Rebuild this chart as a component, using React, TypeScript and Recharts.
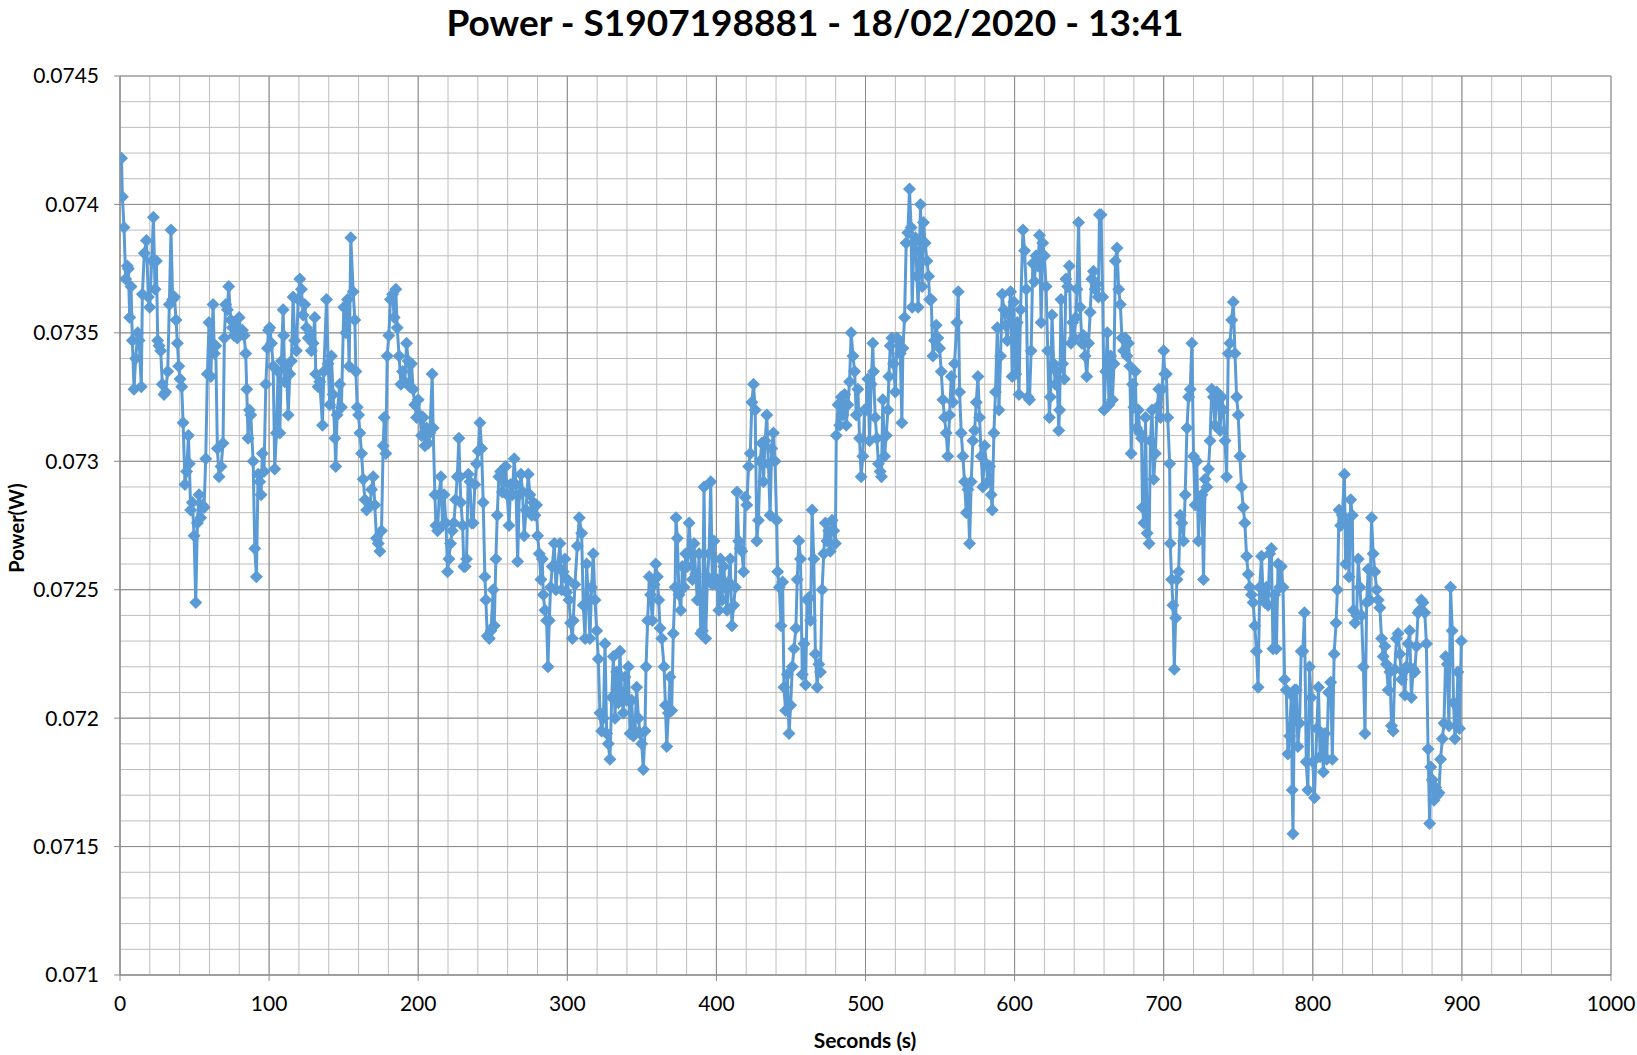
import React from 'react';
import { LineChart, Line, XAxis, YAxis, CartesianGrid } from 'recharts';

// [seconds, power in W] in 100 s blocks
const sec000: [number, number][] = [
  [1, 0.07418], [1.6, 0.07403], [2.7, 0.07391], [3.8, 0.07371], [4.9, 0.07376], [5.6, 0.07375], [6.5, 0.07356], [7.4, 0.07368],
  [8.3, 0.07347], [9.4, 0.07328], [10.5, 0.0734], [11.9, 0.0735], [12.8, 0.07347], [14.3, 0.07329], [15, 0.07365], [16.3, 0.07381],
  [17.7, 0.07386], [19, 0.07364], [19.9, 0.0736], [21.3, 0.07378], [22.4, 0.07395], [23.5, 0.07367], [24.4, 0.07378], [25.3, 0.07347],
  [26.2, 0.07345], [27.3, 0.07343], [28.4, 0.0733], [29.5, 0.07326], [30.6, 0.07327], [32, 0.07335], [33.1, 0.07361], [34.2, 0.0739],
  [35.3, 0.07363], [36.5, 0.07364], [37.6, 0.07355], [38.5, 0.07346], [39.4, 0.07337], [40.3, 0.07332], [41.4, 0.07329], [42.3, 0.07315],
  [43.6, 0.07291], [44.7, 0.07296], [45.9, 0.0731], [46.5, 0.07299], [47.4, 0.07281], [48.5, 0.07284], [49.7, 0.07271], [50.8, 0.07245],
  [51.9, 0.07276], [53, 0.07287], [54.1, 0.07278], [55.3, 0.07283], [56.4, 0.07282], [57.5, 0.07301], [58.6, 0.07334], [59.7, 0.07354],
  [60.9, 0.07333], [62.4, 0.07361], [63.3, 0.07342], [64.2, 0.07345], [65.3, 0.07305], [66.4, 0.07294], [67.8, 0.07298], [69.1, 0.07307],
  [70, 0.07348], [70.9, 0.07361], [72, 0.07359], [72.9, 0.07368], [74.3, 0.07355], [75.4, 0.07352], [76.5, 0.07349], [77.6, 0.07353],
  [78.7, 0.07348], [79.9, 0.07356], [81, 0.0735], [82.1, 0.07351], [83.2, 0.07349], [84.3, 0.07342], [85, 0.07328], [85.9, 0.07309],
  [86.8, 0.0732], [87.7, 0.07318], [89.3, 0.073], [90.4, 0.07266], [91.5, 0.07255], [92.6, 0.07295], [93.7, 0.07292], [94.6, 0.07287],
  [95.5, 0.07303], [96.6, 0.07296], [97.8, 0.0733], [98.9, 0.07344], [99.6, 0.07351],
];

const sec100: [number, number][] = [
  [100.4, 0.07352], [101.6, 0.07346], [102.7, 0.07337], [103.8, 0.07297], [104.9, 0.07311], [106, 0.07335], [107.2, 0.07311], [108.3, 0.07339],
  [109.4, 0.07359], [109.8, 0.07349], [110.5, 0.07331], [111.6, 0.07337], [112.8, 0.07318], [113.9, 0.07334], [115, 0.07339], [116.1, 0.07364],
  [117.2, 0.07347], [118.3, 0.07343], [119.5, 0.07363], [120.6, 0.07371], [121.7, 0.07367], [122.8, 0.07357], [123.9, 0.07361], [125.1, 0.07352],
  [126.2, 0.07348], [127.3, 0.0735], [128.4, 0.07343], [129.5, 0.07346], [130.6, 0.07356], [131.3, 0.07334], [132.9, 0.07329], [134, 0.07331],
  [135.8, 0.07314], [136.7, 0.07335], [138.5, 0.07363], [139.6, 0.07338], [140.7, 0.07322], [141.8, 0.07341], [142.9, 0.07326], [144.1, 0.07309],
  [144.7, 0.07298], [145.6, 0.07318], [147.4, 0.0733], [148.5, 0.07321], [150.1, 0.0736], [151.5, 0.0735], [152.6, 0.07363], [153.7, 0.07337],
  [154.8, 0.07387], [156.4, 0.07366], [157.5, 0.07355], [158.2, 0.07335], [159.1, 0.07321], [160, 0.07318], [160.9, 0.07311], [162, 0.07303],
  [163.1, 0.07293], [164.3, 0.07285], [165.4, 0.07281], [167.6, 0.07283], [168.7, 0.07289], [169.8, 0.07294], [170.9, 0.07283], [172, 0.0727],
  [173.2, 0.07268], [174.3, 0.07265], [175.4, 0.07273], [176.5, 0.07306], [177.2, 0.07317], [178.3, 0.07303], [179.2, 0.07341], [180.3, 0.07349],
  [181.4, 0.07363], [182.8, 0.07365], [183.9, 0.07356], [185, 0.07367], [185.9, 0.07352], [187.2, 0.07341], [188.4, 0.0733], [189.5, 0.07335],
  [191, 0.07331], [192.2, 0.07346], [193.3, 0.07339], [194.4, 0.07329], [195.5, 0.07338], [196.6, 0.07328], [197.7, 0.07322], [198.9, 0.07317],
];

const sec200: [number, number][] = [
  [200, 0.07324], [201.1, 0.07318], [202.2, 0.0731], [203.4, 0.07317], [204.5, 0.07306], [205.6, 0.07313], [206.7, 0.07307], [207.8, 0.07311],
  [209.4, 0.07334], [210, 0.07313], [211.2, 0.07287], [211.9, 0.07275], [213, 0.07273], [214.1, 0.07287], [215.2, 0.07294], [216.3, 0.07275],
  [217.4, 0.07287], [218.6, 0.07276], [219.7, 0.07257], [220.6, 0.07262], [221.7, 0.07268], [222.8, 0.07273], [223.9, 0.07276], [225.1, 0.07285],
  [226.2, 0.07294], [227.3, 0.07309], [228, 0.07294], [228.6, 0.07284], [229.8, 0.07275], [230.6, 0.07259], [231.5, 0.07259], [232.4, 0.07262],
  [233.6, 0.07295], [234.7, 0.07292], [235.8, 0.07276], [236.9, 0.07276], [238, 0.07291], [239.1, 0.07299], [240.3, 0.07304], [241.4, 0.07315],
  [242.5, 0.07305], [243.6, 0.07284], [244.7, 0.07255], [245.4, 0.07246], [246.3, 0.07232], [247.7, 0.07231], [248.8, 0.07234], [250.3, 0.0725],
  [251, 0.07236], [252.1, 0.07262], [253, 0.07279], [254.1, 0.07294], [255.3, 0.07296], [256.4, 0.07288], [257.5, 0.07292], [258.6, 0.07298],
  [259.7, 0.07287], [260.9, 0.07275], [262, 0.07291], [263.1, 0.07287], [264.4, 0.07301], [265.5, 0.07291], [266.7, 0.07261], [267.8, 0.07287],
  [268.9, 0.07295], [270, 0.07288], [271.1, 0.07271], [272.3, 0.07281], [273.8, 0.07295], [274.9, 0.07287], [276.1, 0.07279], [277.2, 0.07284],
  [278.3, 0.07279], [279.4, 0.07283], [280.1, 0.07271], [281.2, 0.07264], [282.3, 0.07254], [283.2, 0.07262], [283.9, 0.07248], [285, 0.07242],
  [286.1, 0.07238], [287, 0.0722], [287.9, 0.07238], [288.8, 0.07251], [289.9, 0.07259], [291.3, 0.07268], [292.4, 0.0725], [293.5, 0.07259],
  [295.1, 0.07268], [296.2, 0.0725], [297.3, 0.07257], [298.4, 0.07262], [299.6, 0.07249],
];

const sec300: [number, number][] = [
  [300, 0.07254], [301.1, 0.07246], [302.2, 0.07237], [303.4, 0.07231], [304, 0.07238], [305.1, 0.07252], [306.7, 0.07267], [308, 0.07278],
  [309.6, 0.07272], [310.7, 0.07244], [311.9, 0.07231], [313, 0.0726], [314.1, 0.07246], [315.2, 0.07231], [316.3, 0.07251], [317.4, 0.07264],
  [318.6, 0.07246], [319.7, 0.07234], [320.8, 0.07223], [321.9, 0.07202], [323, 0.07195], [324.2, 0.072], [325.3, 0.07229], [326.4, 0.07194],
  [327.5, 0.0719], [328.6, 0.07184], [329.8, 0.07208], [330.9, 0.07224], [332, 0.072], [333.1, 0.07218], [334.2, 0.07206], [335.3, 0.07226],
  [336.5, 0.07209], [337.6, 0.07202], [338.7, 0.07216], [339.8, 0.07207], [340.9, 0.0722], [342.1, 0.07194], [343.2, 0.07207], [344.3, 0.07193],
  [345.4, 0.07195], [346.5, 0.07212], [347.7, 0.072], [348.8, 0.07194], [349.9, 0.0719], [351, 0.0718], [352.1, 0.07195], [352.8, 0.0722],
  [353.9, 0.07238], [355, 0.07255], [355.9, 0.07248], [357, 0.07238], [358.2, 0.07252], [359.3, 0.0726], [360.4, 0.07255], [361.3, 0.07246],
  [362.2, 0.07235], [363.3, 0.07231], [364.9, 0.0722], [365.8, 0.07205], [366.7, 0.07189], [367.8, 0.07202], [368.9, 0.07216], [370, 0.07203],
  [371.1, 0.07233], [372.3, 0.07251], [372.9, 0.07278], [373.8, 0.0727], [374.9, 0.07248], [376.1, 0.07242], [377.2, 0.07259], [378.3, 0.07251],
  [379.4, 0.07264], [380.5, 0.07259], [381.7, 0.07276], [382.8, 0.07264], [383.9, 0.07254], [385, 0.07268], [386.1, 0.07256], [387.2, 0.07246],
  [388.4, 0.07264], [389.5, 0.07233], [390.6, 0.07234], [391.7, 0.0729], [392.8, 0.07231], [394, 0.07255], [395.1, 0.07264], [396.2, 0.07292],
  [397.3, 0.07252], [398.4, 0.07269], [399.6, 0.07252],
];

const sec400: [number, number][] = [
  [400.4, 0.07254], [401.6, 0.07242], [402.7, 0.07262], [403.8, 0.07246], [404.9, 0.07259], [406, 0.07251], [407.1, 0.07242], [408.2, 0.07253],
  [409.3, 0.07262], [410.4, 0.07236], [411.6, 0.07244], [412.7, 0.07251], [413.8, 0.07288], [414.9, 0.07269], [416, 0.07266], [417.1, 0.07265],
  [418.2, 0.07257], [419.3, 0.07286], [420.4, 0.07283], [421.6, 0.07298], [422.7, 0.07303], [423.8, 0.07323], [424.9, 0.0733], [426, 0.0732],
  [427.1, 0.07269], [428.2, 0.07277], [429.3, 0.073], [430.4, 0.07307], [431.6, 0.07292], [432.7, 0.07308], [433.8, 0.07318], [434.9, 0.07299],
  [436, 0.07279], [437.1, 0.07305], [438.2, 0.07311], [439.3, 0.073], [440.4, 0.07277], [441.1, 0.07257], [442.2, 0.07251], [443.3, 0.07236],
  [444.4, 0.07253], [445.3, 0.07212], [446.4, 0.07203], [447.6, 0.07217], [448.7, 0.07194], [449.8, 0.07205], [450.9, 0.0722], [452, 0.07227],
  [453.3, 0.07235], [454.2, 0.07254], [455.3, 0.07269], [456.4, 0.07262], [457.6, 0.07217], [458.7, 0.07229], [459.8, 0.07213], [460.9, 0.07246],
  [462, 0.07247], [463.1, 0.07238], [464.2, 0.07281], [465.3, 0.07262], [466.4, 0.07225], [467.6, 0.07212], [468.7, 0.07221], [469.8, 0.07218],
  [470.9, 0.0725], [472, 0.07264], [473.1, 0.07276], [474.2, 0.07269], [475.3, 0.07273], [476.4, 0.07265], [477.6, 0.07277], [478.7, 0.07273],
  [479.8, 0.07268], [480.4, 0.0731], [481.6, 0.07322], [482.7, 0.07314], [483.8, 0.07325], [484.9, 0.07318], [486, 0.07326], [487.1, 0.07314],
  [488.2, 0.07322], [489.3, 0.07331], [490.4, 0.0735], [491.6, 0.07341], [492.7, 0.07335], [493.8, 0.07318], [494.9, 0.07328], [496, 0.07309],
  [497.1, 0.07294], [498.2, 0.07302], [499.3, 0.0732],
];

const sec500: [number, number][] = [
  [500.4, 0.0732], [501.6, 0.07332], [502.7, 0.07308], [503.8, 0.0733], [504.9, 0.07346], [505.4, 0.07335], [506.5, 0.07317], [507.6, 0.07309],
  [508.7, 0.07299], [509.8, 0.07296], [510.7, 0.07294], [511.6, 0.07324], [512.8, 0.07302], [513.9, 0.0731], [515, 0.0732], [515.7, 0.07333],
  [516.6, 0.07345], [517.7, 0.07348], [518.8, 0.07338], [520, 0.07327], [521.1, 0.07348], [522.2, 0.07347], [523.3, 0.07342], [524.4, 0.07315],
  [525.1, 0.07344], [526.2, 0.07356], [527.3, 0.07385], [528.4, 0.07389], [529.5, 0.07406], [530.6, 0.07391], [531.3, 0.0736], [532.4, 0.07385],
  [533.5, 0.07387], [534.5, 0.07372], [535.3, 0.0736], [536.2, 0.07382], [536.9, 0.074], [538, 0.07368], [538.9, 0.07393], [540, 0.07385],
  [541.2, 0.07378], [542.3, 0.07372], [543, 0.07363], [544.1, 0.07363], [545.2, 0.07341], [546.3, 0.07347], [547.4, 0.07353], [548.5, 0.07348],
  [549.7, 0.07344], [550.8, 0.07335], [551.9, 0.07324], [553, 0.07317], [554.1, 0.07311], [555.2, 0.07302], [556.4, 0.07318], [557.5, 0.07333],
  [558.6, 0.07323], [559.7, 0.07338], [561.3, 0.07354], [562.2, 0.07366], [563.1, 0.07327], [564.2, 0.07311], [565.3, 0.07302], [566.4, 0.07292],
  [567.6, 0.0728], [568.7, 0.07289], [569.8, 0.07268], [570.9, 0.07292], [572, 0.07308], [573.2, 0.07312], [574.3, 0.07323], [575.4, 0.07333],
  [576.5, 0.07317], [577.6, 0.07302], [578.7, 0.0729], [579.9, 0.07306], [581, 0.07299], [582.1, 0.07292], [583.2, 0.07298], [584.3, 0.07287],
  [585, 0.07281], [586.1, 0.07311], [587.2, 0.07327], [588.4, 0.07352], [589.5, 0.0732], [590.6, 0.07341], [591.7, 0.07365], [592.8, 0.07359],
  [593.9, 0.07353], [595.1, 0.07347], [596.2, 0.07357], [597.3, 0.07366], [598.4, 0.07333], [599.5, 0.07362],
];

const sec600: [number, number][] = [
  [600, 0.07348], [600.7, 0.07334], [601.8, 0.07354], [602.9, 0.07326], [604, 0.07359], [605.6, 0.0739], [606.7, 0.07382], [607.8, 0.07367],
  [608.9, 0.07325], [610, 0.07324], [611.1, 0.07343], [612.2, 0.07377], [613.3, 0.0737], [614.4, 0.0738], [615.6, 0.07376], [616.7, 0.07388],
  [617.8, 0.07354], [618.9, 0.07385], [620, 0.0738], [621.1, 0.07368], [622.2, 0.07343], [623.3, 0.07317], [624, 0.07325], [625.1, 0.07357],
  [626.2, 0.07338], [627.3, 0.0733], [628.4, 0.07335], [629.6, 0.07312], [630.2, 0.0732], [631.1, 0.07363], [632.2, 0.07338], [633.3, 0.07332],
  [634.4, 0.07371], [635.6, 0.07368], [636.7, 0.07376], [637.8, 0.07346], [638.9, 0.07354], [640, 0.07348], [641.1, 0.07356], [641.8, 0.07367],
  [642.9, 0.07393], [644, 0.0736], [645.1, 0.07346], [646.2, 0.07349], [647.3, 0.07341], [648.4, 0.07333], [649.6, 0.07346], [650.7, 0.07358],
  [651.8, 0.07371], [652.9, 0.07374], [654, 0.07367], [655.1, 0.07369], [656.2, 0.07364], [656.9, 0.07396], [658, 0.07396], [659.1, 0.07364],
  [660, 0.0732], [661.1, 0.07335], [662.2, 0.0735], [663.3, 0.07322], [664.4, 0.07341], [665.6, 0.07324], [666.7, 0.07338], [667.6, 0.07378],
  [668.7, 0.07383], [669.8, 0.07367], [670.9, 0.07361], [672, 0.07348], [673.1, 0.07343], [674.2, 0.07348], [675.3, 0.07341], [676.4, 0.07346],
  [677.3, 0.07337], [678.2, 0.07303], [679.1, 0.0733], [680, 0.07321], [680.9, 0.07335], [681.8, 0.07313], [682.9, 0.0732], [684, 0.07311],
  [685.1, 0.07309], [685.8, 0.07282], [686.7, 0.07276], [687.8, 0.07317], [688.9, 0.07272], [690.2, 0.07268], [691.1, 0.07308], [692.2, 0.0732],
  [693.3, 0.07293], [694.4, 0.07303], [695.6, 0.07321], [696.7, 0.07328], [697.8, 0.07317], [698.9, 0.07328], [700, 0.07343], [700.7, 0.07334],
];

const sec700: [number, number][] = [
  [701.8, 0.07334], [702.7, 0.07317], [704, 0.07299], [704.4, 0.07268], [705.3, 0.07254], [706.2, 0.07244], [707.1, 0.07219], [708, 0.07239],
  [708.9, 0.07254], [710, 0.07257], [711.1, 0.07279], [712.2, 0.07276], [713.3, 0.07269], [714.4, 0.07287], [715.6, 0.07313], [716.7, 0.07325],
  [717.8, 0.07328], [718.9, 0.07346], [720, 0.07302], [721.1, 0.07283], [722.2, 0.073], [723.3, 0.07269], [724.4, 0.07285], [725.6, 0.07287],
  [726.7, 0.07254], [727.8, 0.07293], [728.9, 0.0729], [730, 0.07297], [731.1, 0.07308], [732.2, 0.07328], [733.3, 0.07325], [734.4, 0.07314],
  [735.6, 0.07327], [736.7, 0.07324], [737.8, 0.07312], [738.9, 0.07325], [740, 0.0732], [741.1, 0.07308], [742.2, 0.07294], [743.3, 0.07342],
  [744.4, 0.07346], [745.6, 0.07355], [746.7, 0.07362], [747.8, 0.07342], [748.9, 0.07325], [750, 0.07318], [751.1, 0.07302], [752.2, 0.0729],
  [753.3, 0.07282], [754.4, 0.07276], [755.6, 0.07263], [756.7, 0.07256], [757.8, 0.07251], [758.9, 0.07248], [760, 0.07245], [761.1, 0.07236],
  [762.2, 0.07226], [763.3, 0.07212], [764.4, 0.07251], [765.6, 0.07263], [766.7, 0.07248], [767.8, 0.07245], [768.9, 0.07251], [770, 0.07244],
  [771.1, 0.07264], [772.2, 0.07266], [773.3, 0.07227], [774.4, 0.07248], [775.6, 0.07227], [776.7, 0.0726], [777.8, 0.07251], [778.9, 0.07259],
  [780, 0.07251], [781.1, 0.07215], [782.2, 0.07211], [783.3, 0.07186], [784.4, 0.07193], [785.6, 0.07209], [786.2, 0.07172], [786.7, 0.07155],
  [787.8, 0.07211], [788.9, 0.07211], [790, 0.07189], [791.1, 0.07198], [792.2, 0.07226], [793.3, 0.07226], [794.4, 0.07241], [795.6, 0.07183],
  [796.7, 0.07172], [797.8, 0.0722], [798.9, 0.07208], [800, 0.07183], [801.1, 0.07169],
];

const sec800: [number, number][] = [
  [802.7, 0.07196], [803.8, 0.07212], [804.9, 0.07185], [806, 0.07194], [807.1, 0.07179], [808.2, 0.07194], [809.4, 0.07184], [810.5, 0.0721],
  [812, 0.07214], [813.1, 0.07184], [814.3, 0.07225], [815.6, 0.07237], [816.5, 0.0725], [817.6, 0.07281], [818.7, 0.07275], [819.8, 0.07279],
  [821.2, 0.07295], [822, 0.0726], [823.2, 0.07276], [824.3, 0.07255], [825.4, 0.07285], [826.5, 0.07279], [827.2, 0.07242], [828.3, 0.07237],
  [829.4, 0.0724], [830.5, 0.07262], [831.6, 0.07251], [832.7, 0.0724], [833.9, 0.0722], [835, 0.07194], [836.1, 0.07245], [837.2, 0.07258],
  [838.3, 0.07246], [839.4, 0.07278], [840.5, 0.07264], [841.6, 0.07257], [842.8, 0.0725], [843.9, 0.07246], [845, 0.07243], [846.1, 0.07231],
  [847.2, 0.07224], [848.3, 0.07228], [849.4, 0.07221], [850.6, 0.07211], [851.7, 0.07218], [852.8, 0.07197], [853.9, 0.07195], [855, 0.07219],
  [856.1, 0.07231], [857.2, 0.07233], [858.4, 0.07225], [859.5, 0.07215], [860.6, 0.07218], [861.7, 0.07209], [862.8, 0.0722], [863.9, 0.07229],
  [865, 0.07234], [866.1, 0.07208], [867.3, 0.07219], [868.4, 0.07218], [869.5, 0.07228], [870.6, 0.07241], [871.7, 0.07242], [872.8, 0.07246],
  [873.9, 0.07245], [875.1, 0.07241], [876.2, 0.07229], [877.3, 0.07188], [878.4, 0.07159], [879.1, 0.07181], [880.2, 0.07176], [881.3, 0.07168],
  [882.4, 0.07173], [883.5, 0.0717], [884.6, 0.07171], [885.7, 0.07184], [886.9, 0.07192], [888, 0.07198], [889.1, 0.07224], [890.2, 0.07221],
  [891.3, 0.07197], [892.4, 0.07251], [893.5, 0.07234], [894.4, 0.07206], [895.3, 0.07192], [896.2, 0.07197], [897.3, 0.07218], [898.4, 0.07196],
  [899.6, 0.0723],
];

const samples = [...sec000, ...sec100, ...sec200, ...sec300, ...sec400, ...sec500, ...sec600, ...sec700, ...sec800]
  .map(([s, w]) => ({ s, w }));

const xTicks = [0, 100, 200, 300, 400, 500, 600, 700, 800, 900, 1000];
const yTicks = [0.071, 0.0715, 0.072, 0.0725, 0.073, 0.0735, 0.074, 0.0745];
const xMinor = Array.from({ length: 51 }, (_, i) => i * 20);
const yMinor = Array.from({ length: 36 }, (_, i) => Number((0.071 + i * 0.0001).toFixed(4)));

const BLUE = '#5B9BD5';
const FONT = 'Lato, "Open Sans", sans-serif';

const Diamond = (props: any) => {
  const { cx, cy, index } = props;
  if (cx == null || cy == null) return <g key={`d${index}`} />;
  const r = 6.5;
  return (
    <path
      key={`d${index}`}
      d={`M${cx},${cy - r}L${cx + r},${cy}L${cx},${cy + r}L${cx - r},${cy}Z`}
      fill={BLUE}
      stroke="none"
    />
  );
};

export default function App() {
  return (
    <div style={{ position: 'absolute', left: 0, top: 0, width: 1637, height: 1055, background: '#fff', fontFamily: FONT }}>
      <div style={{ position: 'absolute', left: 315, width: 1000, top: 1, textAlign: 'center', fontSize: 37, fontWeight: 700, lineHeight: '42px', color: '#000' }}>
        Power - S1907198881 - 18/02/2020 - 13:41
      </div>
      <LineChart width={1637} height={1055} data={samples} margin={{ top: 76, right: 26, bottom: 40, left: 20 }}>
        <CartesianGrid stroke="#bdbdbd" strokeWidth={1} verticalValues={xMinor} horizontalValues={yMinor} />
        <CartesianGrid stroke="#8a8a8a" strokeWidth={1} verticalValues={xTicks} horizontalValues={yTicks} />
        <XAxis
          type="number"
          dataKey="s"
          domain={[0, 1000]}
          ticks={xTicks}
          height={40}
          tickSize={6}
          tickMargin={15}
          axisLine={{ stroke: '#8a8a8a' }}
          tickLine={{ stroke: '#8a8a8a' }}
          tick={{ fill: '#000', fontSize: 21, fontFamily: FONT }}
          allowDataOverflow
        />
        <YAxis
          type="number"
          domain={[0.071, 0.0745]}
          ticks={yTicks}
          width={100}
          tickSize={6}
          tickMargin={15}
          axisLine={{ stroke: '#8a8a8a' }}
          tickLine={{ stroke: '#8a8a8a' }}
          tick={{ fill: '#000', fontSize: 21, fontFamily: FONT }}
          tickFormatter={(v: number) => String(Number(v.toFixed(4)))}
          allowDataOverflow
        />
        <Line
          type="linear"
          dataKey="w"
          stroke={BLUE}
          strokeWidth={3}
          dot={Diamond}
          activeDot={false}
          isAnimationActive={false}
        />
      </LineChart>
      <div style={{ position: 'absolute', left: 765, width: 200, top: 1027, textAlign: 'center', fontSize: 21, fontWeight: 700, lineHeight: '26px', color: '#000' }}>
        Seconds (s)
      </div>
      <div style={{ position: 'absolute', left: 16, top: 528, width: 0, height: 0 }}>
        <div style={{ position: 'absolute', left: -100, top: -12, width: 200, textAlign: 'center', fontSize: 20, fontWeight: 700, lineHeight: '24px', color: '#000', transform: 'rotate(-90deg)' }}>
          Power(W)
        </div>
      </div>
    </div>
  );
}
